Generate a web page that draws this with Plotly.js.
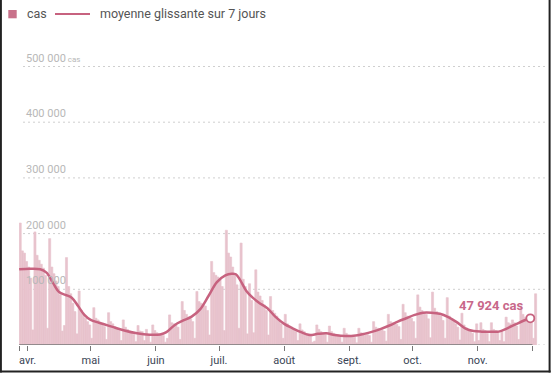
<!DOCTYPE html>
<html>
<head>
<meta charset="utf-8">
<script src="https://cdn.plot.ly/plotly-3.0.1.min.js"></script>
<style>html,body{margin:0;padding:0;background:#fff;}#chart{width:552px;height:374px;}</style>
</head>
<body>
<div id="chart"></div>
<script>
// ---- data ----
const startDate = '2022-03-28';
const cases = [
  219000,169000,165000,150000,140000,120000,27000,
  203000,161000,152000,145000,138000,125000,30000,
  191000,140000,128000,115000,105000,90000,25000,
  35000,157000,105000,92000,75000,60000,20000,
  97000,62000,55000,48000,42000,36000,12000,
  67000,48000,45000,41000,38000,33000,10000,
  58000,42000,38000,33000,30000,26000,8000,
  45000,32000,28000,25000,23000,19000,6000,
  35000,25000,24000,8000,28000,17000,5000,
  36000,26000,22000,20000,19000,17000,5000,
  12000,54000,40000,38000,36000,32000,10000,
  78000,62000,55000,50000,47000,42000,12000,
  96000,78000,75000,72000,70000,62000,18000,
  150000,130000,125000,122000,118000,105000,26000,
  206000,165000,158000,140000,125000,108000,30000,
  183000,118000,105000,20000,110000,80000,22000,
  135000,95000,88000,80000,72000,62000,18000,
  87000,62000,57000,52000,46000,38000,12000,
  55000,38000,34000,31000,28000,24000,8000,
  38000,27000,24000,21000,20000,17000,5000,
  7000,36000,28000,24000,22000,19000,5000,
  34000,24000,21000,19000,18000,15000,5000,
  30000,21000,18000,17000,16000,14000,4000,
  30000,22000,20000,19000,19000,17000,5000,
  42000,32000,30000,29000,28000,25000,7000,
  55000,42000,40000,38000,37000,33000,10000,
  73000,58000,52000,50000,48000,42000,12000,
  90000,68000,62000,57000,55000,47000,13000,
  95000,66000,60000,55000,52000,44000,12000,
  85000,52000,46000,42000,38000,32000,9000,
  57000,36000,31000,28000,25000,21000,6000,
  38000,8000,40000,28000,26000,21000,6000,
  40000,28000,26000,25000,8000,24000,6000,
  50000,40000,38000,45000,40000,34000,10000,
  68000,55000,50000,48000,45000,40000,12000,
  92000
];
const avgDates = ['2022-03-28','2022-04-02','2022-04-07','2022-04-10','2022-04-13','2022-04-16','2022-04-19','2022-04-22','2022-04-25','2022-04-28',
  '2022-05-01','2022-05-05','2022-05-11','2022-05-17','2022-05-23','2022-05-29','2022-06-03','2022-06-06','2022-06-10','2022-06-14',
  '2022-06-18','2022-06-22','2022-06-26','2022-06-30','2022-07-04','2022-07-07','2022-07-09','2022-07-11','2022-07-14','2022-07-17',
  '2022-07-20','2022-07-24','2022-07-28','2022-08-01','2022-08-05','2022-08-09','2022-08-13','2022-08-17','2022-08-21','2022-08-25',
  '2022-08-30','2022-09-04','2022-09-08','2022-09-12','2022-09-16','2022-09-20','2022-09-24','2022-09-28','2022-10-02','2022-10-06',
  '2022-10-10','2022-10-14','2022-10-18','2022-10-22','2022-10-26','2022-10-30','2022-11-03','2022-11-07','2022-11-11','2022-11-15',
  '2022-11-19','2022-11-23','2022-11-26'];
const avgValues = [136000,137000,136000,130000,112000,95000,90000,85000,70000,54000,
  45000,40000,33000,26000,21000,18500,19000,23000,36000,44000,
  51000,64000,88000,113000,125000,128000,127000,117000,97000,85000,
  76000,66000,50000,38000,30000,23000,18000,20000,21000,18000,
  16000,17000,20000,24000,29000,35000,42000,48000,54000,58000,
  58000,56000,50000,41000,30000,25000,24000,24000,24000,30000,
  37000,44000,47924];
const tickDates = ['2022-03-28','2022-04-01','2022-05-01','2022-06-01','2022-07-01','2022-08-01','2022-09-01','2022-10-01','2022-11-01','2022-11-27'];
const tickLabels = ['','avr.','mai','juin','juil.','août','sept.','oct.','nov.',''];
const gridValues = [100000,200000,300000,400000,500000];
const gridLabels = ['100 000','200 000','300 000','400 000','500 000'];
const lastLabel = '47 924 cas';

// ---- build ----
const dates = [];
const d0 = new Date(startDate + 'T00:00:00Z');
for (let i = 0; i < cases.length; i++) {
  const d = new Date(d0.getTime() + i * 86400000);
  dates.push(d.toISOString().slice(0, 10));
}

const L = 19, R = 4, T = 40, B = 29, W = 552, H = 374;
const pw = W - L - R, ph = H - T - B;
const px = x => (x - L) / pw;
const py = y => (H - B - y) / ph;

const lineColor = '#c7627f';
const barColor = '#e8c3cd';
const font = "Roboto, 'Noto Sans', sans-serif";

const traces = [
  {type: 'bar', x: dates, y: cases, offset: 0, width: 86400000,
   marker: {color: barColor, line: {width: 0.6, color: barColor}}, hoverinfo: 'skip'},
  {type: 'scatter', mode: 'lines', x: avgDates, y: avgValues,
   line: {color: lineColor, width: 2.5, shape: 'spline', smoothing: 1}, hoverinfo: 'skip'},
  {type: 'scatter', mode: 'markers', x: [avgDates[avgDates.length - 1]], y: [avgValues[avgValues.length - 1]],
   marker: {size: 8, color: '#ffffff', line: {color: lineColor, width: 1.8}}, hoverinfo: 'skip', cliponaxis: false}
];

const shapes = [];
[0].concat(gridValues).forEach(v => {
  shapes.push({type: 'line', xref: 'paper', yref: 'y', x0: px(23), x1: 1, y0: v, y1: v,
    line: {color: '#cfcfcf', width: 1, dash: '2px,3px'}, layer: 'below'});
});
shapes.push({type: 'line', xref: 'x', yref: 'y', x0: tickDates[0], x1: tickDates[tickDates.length - 1], y0: 0, y1: 0,
  line: {color: '#777777', width: 1.5}});
// legend
shapes.push({type: 'rect', xref: 'paper', yref: 'paper', x0: px(8.3), x1: px(16.7), y0: py(18.3), y1: py(10),
  fillcolor: '#c8718a', line: {width: 0}});
shapes.push({type: 'line', xref: 'paper', yref: 'paper', x0: px(55), x1: px(90), y0: py(14), y1: py(14),
  line: {color: lineColor, width: 2.2}});
// frame
shapes.push({type: 'line', xref: 'paper', yref: 'paper', x0: px(0.9), x1: px(0.9), y0: py(0), y1: py(372.5), line: {color: '#222', width: 2}});
shapes.push({type: 'line', xref: 'paper', yref: 'paper', x0: px(549.6), x1: px(549.6), y0: py(0), y1: py(372.5), line: {color: '#222', width: 2}});
shapes.push({type: 'line', xref: 'paper', yref: 'paper', x0: px(0), x1: px(550.6), y0: py(371.6), y1: py(371.6), line: {color: '#222', width: 2}});

const annotations = [];
gridValues.forEach((v, i) => {
  annotations.push({xref: 'paper', yref: 'y', x: px(24), y: v, xanchor: 'left', yanchor: 'bottom', yshift: 0,
    showarrow: false, text: gridLabels[i] + (i === gridValues.length - 1 ? '<span style="font-size:8px"> cas</span>' : ''),
    font: {family: font, size: 11, color: '#b8b8b8'}});
});
annotations.push({xref: 'paper', yref: 'paper', x: px(25), y: py(14), xanchor: 'left', yanchor: 'middle', showarrow: false,
  text: 'cas', font: {family: font, size: 12.5, color: '#555'}});
annotations.push({xref: 'paper', yref: 'paper', x: px(98), y: py(14), xanchor: 'left', yanchor: 'middle', showarrow: false,
  text: 'moyenne glissante sur 7 jours', font: {family: font, size: 12.5, color: '#555'}});
annotations.push({xref: 'paper', yref: 'paper', x: px(491), y: py(305.7), xanchor: 'center', yanchor: 'middle', showarrow: false,
  text: '<b>' + lastLabel + '</b>', font: {family: font, size: 13, color: '#c8688a'}});

const layout = {
  width: W, height: H,
  margin: {l: L, r: R, t: T, b: B, pad: 0},
  paper_bgcolor: '#ffffff', plot_bgcolor: '#ffffff',
  showlegend: false,
  font: {family: font},
  xaxis: {type: 'date', range: ['2022-03-27 22:00', '2022-12-04 09:36'],
    tickmode: 'array', tickvals: tickDates, ticktext: tickLabels,
    ticks: 'outside', ticklen: 5, tickwidth: 1, tickcolor: '#777',
    showgrid: false, zeroline: false, showline: false,
    tickfont: {family: font, size: 11, color: '#3a4556'}},
  yaxis: {range: [0, 547567], showgrid: false, zeroline: false, showline: false, showticklabels: false, ticks: ''},
  shapes: shapes,
  annotations: annotations
};

Plotly.newPlot('chart', traces, layout, {staticPlot: true, displayModeBar: false});
</script>
</body>
</html>
